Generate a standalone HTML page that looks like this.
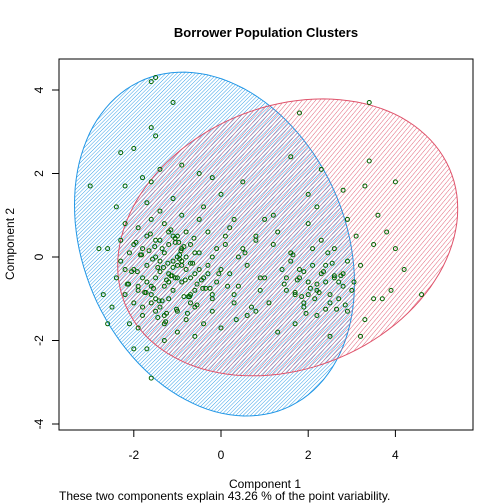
<!DOCTYPE html>
<html><head><meta charset="utf-8"><style>
body{margin:0;background:#fff}
svg{display:block;font-family:"Liberation Sans",Arial,sans-serif}
</style></head><body>
<svg id="chart" width="504" height="504" viewBox="0 0 504 504" xmlns="http://www.w3.org/2000/svg">
<defs>
<pattern id="hatchBlue" width="2.6" height="2.6" patternUnits="userSpaceOnUse" patternTransform="rotate(45)">
<line x1="0" y1="0" x2="0" y2="2.6" stroke="#2297E6" stroke-width="0.9"/>
</pattern>
<pattern id="hatchRed" width="3.4" height="3.4" patternUnits="userSpaceOnUse" patternTransform="rotate(40)">
<line x1="0" y1="0" x2="0" y2="3.4" stroke="#DF536B" stroke-width="0.9"/>
</pattern>
<clipPath id="plotClip"><rect x="59" y="59" width="414" height="371"/></clipPath>
</defs>
<rect width="504" height="504" fill="#fff"/>
<text x="266" y="37" text-anchor="middle" font-size="13" font-weight="bold">Borrower Population Clusters</text>
<g id="ellipses" clip-path="url(#plotClip)"></g>
<g id="points" clip-path="url(#plotClip)"></g>
<rect x="59" y="59" width="414" height="371" fill="none" stroke="#000" stroke-width="1"/>
<g id="axes"></g>
<text x="265" y="488" text-anchor="middle" font-size="12">Component 1</text>
<text x="59" y="500" font-size="12">These two components explain 43.26 % of the point variability.</text>
<text transform="translate(14,244) rotate(-90)" text-anchor="middle" font-size="12">Component 2</text>
</svg>
<script>
const xTicks=[-2,0,2,4];
const yTicks=[-4,-2,0,2,4];
const comp1=[-1.2,-0.9,-1.5,-0.6,-1.8,-1.1,-0.4,-2.0,-1.3,-0.8,-1.6,-0.2,-1.0,-2.2,-1.4,-0.5,-0.1,-1.9,-0.7,-1.2,
-1.7,-0.3,-1.0,-0.9,-1.5,-2.1,-0.6,-1.3,-0.8,-1.8,0.2,0.1,-0.4,-1.1,-2.4,-2.3,-1.6,-0.2,0.3,-1.2,
-1.4,-0.7,-1.9,-1.0,-0.5,-1.3,-0.8,-1.6,-2.0,-1.1,-0.3,-0.9,-1.7,-2.2,-1.5,-0.4,-1.0,-1.9,-2.5,-2.6,
0.5,0.4,0.0,-0.6,-1.3,-2.1,0.6,0.0,-1.2,-0.7,-1.5,-1.8,-0.2,-1.0,-1.3,-0.9,-1.7,-2.3,-1.4,-0.6,
1.8,2.1,2.5,1.6,2.8,2.3,1.9,2.6,3.0,2.2,1.5,2.9,3.2,2.0,1.7,2.4,3.1,2.7,1.4,2.0,
1.2,1.1,0.9,1.3,2.5,2.9,3.3,1.0,0.8,2.2,3.5,3.9,4.0,3.7,4.2,3.6,3.3,4.0,2.8,3.8,
4.6,3.2,3.5,3.4,2.3,
-1.5,-1.6,-1.1,-1.6,-1.5,-2.3,-2.0,-3.0,-2.2,-1.6,-2.4,-1.4,-0.9,-0.5,-0.2,0.0,-1.8,-2.8,-2.7,-2.6,
-2.0,-1.7,-1.6,0.5,1.2,1.6,2.0,1.3,0.8,0.3,3.4,1.8,
-1.1,-0.7,-1.4,-0.95,-1.25,-0.55,-1.65,-0.85,-1.05,-0.35,1.9,2.2,2.6,1.7,2.4,
-1.15,-1.45,-0.75,-1.85,-1.35,-0.65,-1.05,-1.55,-0.45,-2.05,-1.25,-0.85,-1.75,-1.95,-0.55,-1.15,-1.45,-0.95,-2.15,-0.25,
-1.6,-1.2,-0.8,-1.4,-1.0,-1.8,-0.6,-2.0,-1.3,-0.9,-1.7,-1.1,-0.5,-1.5,-2.2,-0.3,-1.9,-0.7,-1.35,-1.05,
-1.22,-1.52,-0.82,-1.72,-1.02,-0.62,-1.92,-1.42,-0.92,-2.12,-1.32,-0.72,-1.62,-1.12,-0.42,-1.82,-1.27,-0.97,-1.57,-0.77,
-0.1,0.1,0.3,0.6,0.8,1.0,-0.2,0.4,0.7,0.2,0.9,-0.05,0.55,0.35,0.15,
1.6,1.8,2.0,2.2,2.4,2.6,2.8,1.7,1.9,2.1,2.3,2.5,2.7,1.5,2.9,2.05,2.35,1.85,2.65,1.65,
2.15,2.45,1.75,2.55,1.95,2.25,1.45,2.75,3.05,2.85];
const comp2=[0.3,-0.2,-0.5,0.1,0.2,-0.8,-0.5,-0.3,0.8,0.6,-1.1,-0.9,-1.3,-0.9,1.1,0.9,0.2,0.7,-1.1,-0.4,
-0.2,-0.2,0.0,-0.6,0.4,0.1,-0.8,-1.6,-1.5,-1.4,-0.4,0.5,1.2,1.4,-0.5,0.4,0.9,-1.3,-1.1,-1.0,
-0.1,0.3,-0.7,0.5,-0.3,0.1,-0.3,-0.7,-1.1,-0.1,0.6,1.0,1.3,0.8,-1.3,-1.6,-1.8,-1.7,-1.2,0.2,
0.2,-0.7,-0.3,-1.9,-2.0,-1.6,-1.4,-1.7,0.6,-0.5,0.0,-0.5,0.0,-0.5,-0.7,0.2,0.5,-0.1,-1.2,-1.2,
-0.5,-0.2,-0.9,0.1,-0.4,0.4,-1.1,0.2,-0.8,-1.4,-0.8,-1.3,-0.2,0.8,-1.6,-0.6,0.5,-1.0,-0.3,-0.9,
0.3,-1.1,-0.5,-1.8,-1.9,0.9,-1.5,0.9,-1.3,1.2,0.3,-0.8,0.2,-1.0,-0.3,1.0,1.7,1.8,1.6,0.6,
-0.9,-1.9,-1.0,2.3,2.1,
4.3,4.2,3.7,3.1,2.9,2.5,2.6,1.7,1.7,1.8,1.2,2.1,2.2,2.0,1.9,1.5,1.9,0.2,-0.9,-1.6,
-2.2,-2.2,-2.9,1.8,1.0,2.4,1.5,0.6,0.5,0.9,3.7,3.45,
-0.25,-0.15,-0.35,0.05,-0.55,-0.65,0.15,-0.95,0.35,-0.75,-0.35,-0.65,-0.45,-0.85,-1.25,
-0.45,-0.25,-0.95,0.05,-1.05,-0.15,0.45,-0.75,-0.55,-0.35,-1.35,0.25,-0.85,0.35,-1.15,0.65,-1.45,-0.05,-0.65,-0.75,
-0.9,-0.6,0.0,0.4,-0.2,-1.2,-0.4,0.3,-1.4,-0.1,-0.6,0.5,0.1,-1.0,-0.3,-0.4,-0.8,-0.9,0.2,-0.5,
-0.15,0.25,-0.55,-0.85,-1.25,0.45,-0.35,-1.05,0.15,-0.65,-0.25,-0.95,0.55,-0.45,-0.75,0.05,-1.55,0.35,-0.05,-1.35,
-0.6,0.3,-0.9,-0.2,0.4,-0.5,-1.0,0.0,-1.2,0.7,-0.8,-0.4,0.1,-1.5,-0.7,
-0.1,-0.3,-0.6,-0.8,-0.2,-0.5,-0.7,-0.9,-1.2,0.2,-0.4,-1.1,-0.6,-0.5,-0.1,-0.75,-0.35,-0.95,-1.25,0.05,
-1.0,0.1,-0.55,-0.15,-1.35,-0.85,-0.65,-0.45,-0.6,-1.15];
const clusterCenters=[[-0.15,0.31],[1.53,0.47]];
const clusterColors=['#2297E6','#DF536B'];
const X=v=>221+v*43.6;
const Y=v=>257-v*41.75;
const NS='http://www.w3.org/2000/svg';
function mk(tag,attrs,parent){const e=document.createElementNS(NS,tag);for(const k in attrs)e.setAttribute(k,attrs[k]);parent.appendChild(e);return e;}
const shapes=[[140,39.3,167.4],[170,-28.5,135.5]];
const eg=document.getElementById('ellipses');
clusterCenters.forEach((c,i)=>{
  const cx=X(c[0]),cy=Y(c[1]);const s=shapes[i];let d='';
  for(let k=0;k<=120;k++){const t=k/120*2*Math.PI;const x=cx+s[0]*Math.cos(t);const y=cy+s[1]*Math.cos(t)+s[2]*Math.sin(t);d+=(k?'L':'M')+x.toFixed(1)+' '+y.toFixed(1);}
  const p=mk('path',{d:d+'Z',fill:i===0?'url(#hatchBlue)':'url(#hatchRed)',stroke:clusterColors[i],'stroke-width':1},eg);
  
  
});
const pg=document.getElementById('points');
comp1.forEach((v,i)=>{
  const c=mk('circle',{cx:X(v),cy:Y(comp2[i]),r:2,fill:'none',stroke:'#006400','stroke-width':1},pg);
  
  
});
const ag=document.getElementById('axes');
xTicks.forEach(t=>{
  const l=mk('line',{x1:X(t),x2:X(t),y1:430,y2:437,stroke:'#000'},ag);
  
  
  const tx=mk('text',{x:X(t),y:459,'text-anchor':'middle','font-size':12},ag);tx.textContent=t;
  
  
});
yTicks.forEach(t=>{
  const l=mk('line',{x1:52,x2:59,y1:Y(t),y2:Y(t),stroke:'#000'},ag);
  
  
  const tx=mk('text',{transform:`translate(43,${Y(t)}) rotate(-90)`,'text-anchor':'middle','font-size':12},ag);tx.textContent=t;
  
  
});
</script>
</body></html>
